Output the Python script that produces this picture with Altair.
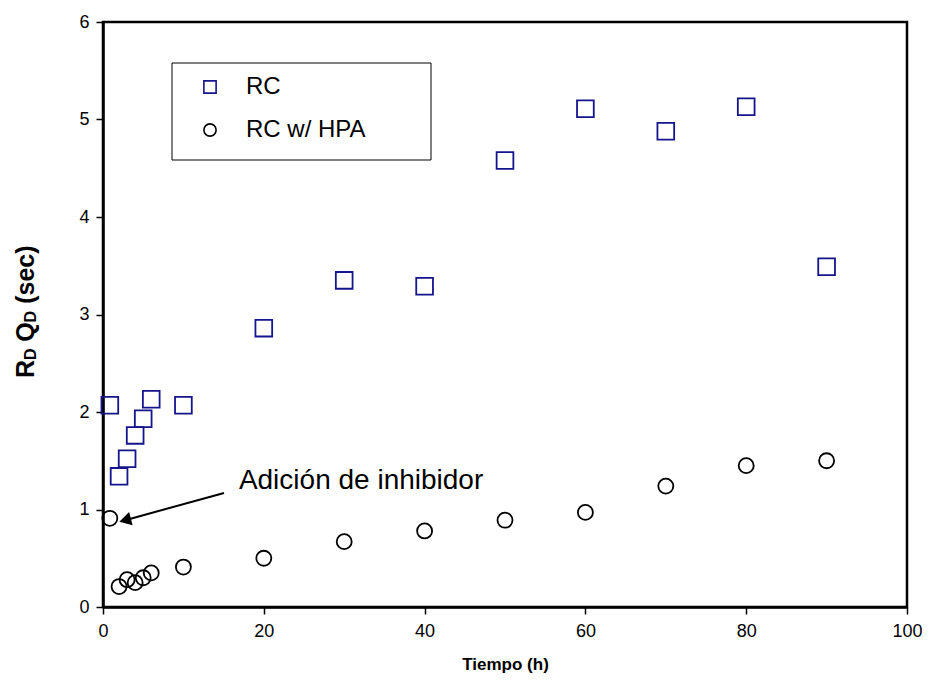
import altair as alt
import pandas as pd

# ---- data ----
tiempo = [0.85, 2, 3, 4, 5, 6, 10, 20, 30, 40, 50, 60, 70, 80, 90]
rc = [2.07, 1.34, 1.52, 1.76, 1.93, 2.13, 2.07, 2.86, 3.35, 3.29, 4.58, 5.11, 4.88, 5.13, 3.49]
rc_hpa = [0.91, 0.21, 0.28, 0.25, 0.30, 0.35, 0.41, 0.50, 0.67, 0.78, 0.89, 0.97, 1.24, 1.45, 1.50]
series = ["RC", "RC w/ HPA"]
x_ticks = [0, 20, 40, 60, 80, 100]
y_ticks = [0, 1, 2, 3, 4, 5, 6]
annotation = "Adición de inhibidor"

FONT = "Liberation Sans"
W, H = 804, 585
SHAPES = ["square", "circle"]
COLORS = ["#14148c", "#000000"]
SIZES = [280, 225]

df = pd.DataFrame({
    "Tiempo": tiempo + tiempo,
    "RDQD": rc + rc_hpa,
    "Serie": [series[0]] * len(tiempo) + [series[1]] * len(rc_hpa),
})

xs = alt.Scale(domain=[0, 100], nice=False)
ys = alt.Scale(domain=[0, 6], nice=False)

points = alt.Chart(df).mark_point(filled=False, strokeWidth=1.8, opacity=1).encode(
    x=alt.X("Tiempo:Q", scale=xs,
            axis=alt.Axis(values=x_ticks, title="Tiempo (h)", grid=False, format="d")),
    y=alt.Y("RDQD:Q", scale=ys,
            axis=alt.Axis(values=y_ticks, title=None, grid=False, format="d")),
    shape=alt.Shape("Serie:N", scale=alt.Scale(domain=series, range=SHAPES), legend=None),
    stroke=alt.Stroke("Serie:N", scale=alt.Scale(domain=series, range=COLORS), legend=None),
    size=alt.Size("Serie:N", scale=alt.Scale(domain=series, range=SIZES), legend=None),
)

# ---- legend (drawn as decoration inside the plot) ----
frame = alt.Chart(pd.DataFrame({"k": [0]})).mark_rect(
    fill="white", stroke="black", strokeWidth=1
).encode(x=alt.value(69), x2=alt.value(328), y=alt.value(41), y2=alt.value(138))

legend_layers = []
legend_rows_y = [65, 108]
for name, shp, col, ly in zip(series, SHAPES, COLORS, legend_rows_y):
    one = pd.DataFrame({"t": [name]})
    legend_layers.append(
        alt.Chart(one).mark_point(shape=shp, filled=False, strokeWidth=1.6,
                                  stroke=col, size=150, opacity=1)
        .encode(x=alt.value(107), y=alt.value(ly))
    )
    legend_layers.append(
        alt.Chart(one).mark_text(align="left", baseline="middle", fontSize=24,
                                 font=FONT, color="black")
        .encode(x=alt.value(143), y=alt.value(ly), text="t:N")
    )

# ---- annotation text and arrow (data coordinates) ----
ann_df = pd.DataFrame({"x": [16.9], "y": [1.29], "t": [annotation]})
ann = alt.Chart(ann_df).mark_text(
    align="left", baseline="middle", fontSize=28, font=FONT, color="black"
).encode(x=alt.X("x:Q", scale=xs), y=alt.Y("y:Q", scale=ys), text="t:N")

arrow_df = pd.DataFrame({"x": [15.05], "y": [1.17], "x2": [2.75], "y2": [0.89]})
arrow_line = alt.Chart(arrow_df).mark_rule(color="black", strokeWidth=2).encode(
    x=alt.X("x:Q", scale=xs), y=alt.Y("y:Q", scale=ys), x2="x2:Q", y2="y2:Q")
arrow_head = alt.Chart(arrow_df).mark_point(
    shape="triangle-up", filled=True, color="black", size=190, angle=255, opacity=1
).encode(x=alt.X("x2:Q", scale=xs), y=alt.Y("y2:Q", scale=ys))

# ---- y-axis title with subscripts ----
title_pieces = [
    ("R", 25, -69, 356),
    ("D", 16, -67, 338.0),
    ("Q", 25, -69, 319.8),
    ("D", 16, -67, 300.4),
    ("(sec)", 25, -69, 281.8),
]
ytitle_layers = []
for txt, fs, px, py in title_pieces:
    ytitle_layers.append(
        alt.Chart(pd.DataFrame({"t": [txt]})).mark_text(
            align="left", baseline="alphabetic", angle=270, fontSize=fs,
            fontWeight="bold", font=FONT, color="black"
        ).encode(x=alt.value(px), y=alt.value(py), text="t:N")
    )

chart = alt.layer(frame, points, *legend_layers, arrow_line, arrow_head, ann,
                  *ytitle_layers).properties(
    width=W, height=H,
    autosize=alt.AutoSizeParams(type="none"),
    padding={"left": 95, "top": 14, "right": 15, "bottom": 80},
    background="white",
).configure_view(
    stroke="black", strokeWidth=2.5
).configure_axis(
    domainColor="black", domainWidth=2.5, tickColor="black", tickWidth=1.5, tickSize=7,
    labelFont=FONT, labelFontSize=18, labelColor="black",
    titleFont=FONT, titleFontSize=17, titleFontWeight="bold", titleColor="black",
).configure_axisX(
    labelPadding=8, titlePadding=16, labelFlush=False
).configure_axisY(
    labelPadding=7, labelFlush=False
)

chart.save("out.html", embed_options={"renderer": "svg", "actions": False})
